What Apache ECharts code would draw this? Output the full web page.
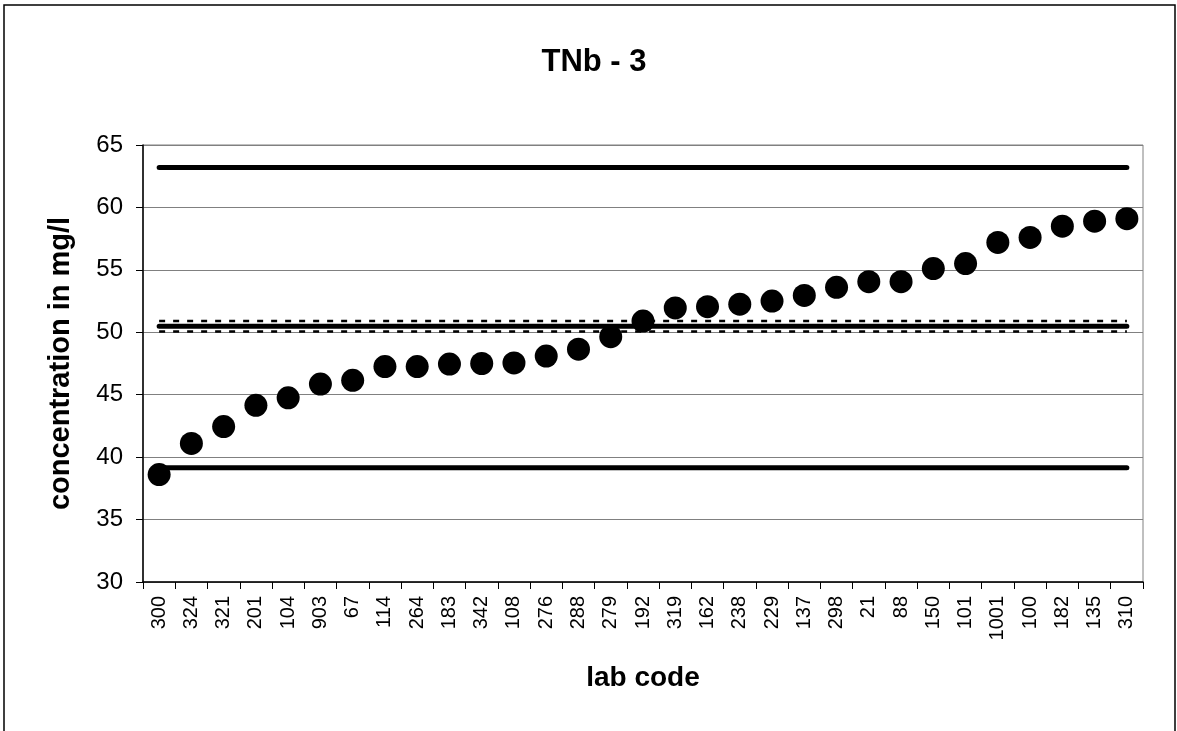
<!DOCTYPE html>
<html>
<head>
<meta charset="utf-8">
<script src="https://cdn.jsdelivr.net/npm/echarts@6/dist/echarts.min.js"></script>
<style>
html,body{margin:0;padding:0;background:#fff;}
#chart{width:1177px;height:731px;}
</style>
</head>
<body>
<div id="chart"></div>
<script>
const labCodes = ['300','324','321','201','104','903','67','114','264','183','342','108','276','288','279','192','319','162','238','229','137','298','21','88','150','101','1001','100','182','135','310'];
const concentrations = [38.6,41.1,42.45,44.15,44.75,45.85,46.15,47.25,47.25,47.45,47.5,47.55,48.1,48.65,49.65,50.9,51.95,52.05,52.25,52.5,52.95,53.6,54.05,54.05,55.1,55.5,57.2,57.6,58.5,58.9,59.1];
const upperLimit = 63.2;
const lowerLimit = 39.15;
const assignedValue = 50.48;
const upperUncertainty = 50.9;
const lowerUncertainty = 50.06;
const yTicks = {min: 30, max: 65, interval: 5};

const constSeries = (v) => labCodes.map(() => v);
const FONT = 'Liberation Sans, Arial, sans-serif';

const chart = echarts.init(document.getElementById('chart'), null, {renderer: 'canvas'});
chart.setOption({
  animation: false,
  backgroundColor: '#fff',
  title: {
    text: 'TNb - 3',
    left: 589, top: 42, textAlign: 'center',
    textStyle: {fontFamily: FONT, fontSize: 31, fontWeight: 'bold', color: '#000'}
  },
  graphic: [{
    type: 'rect', silent: true,
    shape: {x: 4, y: 5, width: 1171, height: 760},
    style: {fill: 'none', stroke: '#000', lineWidth: 1.5},
    z: 100
  }, {
    type: 'rect', silent: true,
    shape: {x: 143, y: 145, width: 1000, height: 437},
    style: {fill: 'none', stroke: '#808080', lineWidth: 1},
    z: 0
  }],
  grid: {left: 143, right: 34, top: 145, bottom: 149, containLabel: false},
  xAxis: {
    type: 'category',
    data: labCodes,
    boundaryGap: true,
    name: 'lab code',
    nameLocation: 'middle',
    nameGap: 82,
    nameTextStyle: {fontFamily: FONT, fontSize: 28, fontWeight: 'bold', color: '#000'},
    axisLine: {lineStyle: {color: '#000', width: 1.5}},
    axisTick: {show: true, alignWithLabel: false, length: 7, lineStyle: {color: '#000'}},
    axisLabel: {rotate: 90, interval: 0, margin: 14, fontFamily: FONT, fontSize: 20, color: '#000'},
    splitLine: {show: false}
  },
  yAxis: {
    type: 'value',
    min: yTicks.min, max: yTicks.max, interval: yTicks.interval,
    name: 'concentration in mg/l',
    nameLocation: 'middle',
    nameGap: 68,
    nameRotate: 90,
    nameTextStyle: {fontFamily: FONT, fontSize: 29, fontWeight: 'bold', color: '#000'},
    axisLine: {show: true, lineStyle: {color: '#000', width: 1.5}},
    axisTick: {show: true, length: 7, lineStyle: {color: '#000'}},
    axisLabel: {margin: 20, fontFamily: FONT, fontSize: 24, color: '#000'},
    splitLine: {show: true, lineStyle: {color: '#808080', width: 1}}
  },
  series: [
    {type: 'line', data: constSeries(upperLimit), symbol: 'none', lineStyle: {color: '#000', width: 5, cap: 'round'}, z: 2, silent: true},
    {type: 'line', data: constSeries(lowerLimit), symbol: 'none', lineStyle: {color: '#000', width: 5, cap: 'round'}, z: 2, silent: true},
    {type: 'line', data: constSeries(assignedValue), symbol: 'none', lineStyle: {color: '#000', width: 5, cap: 'round'}, z: 2, silent: true},
    {type: 'line', data: constSeries(upperUncertainty), symbol: 'none', lineStyle: {color: '#000', width: 2.5, type: [6, 8]}, z: 2, silent: true},
    {type: 'line', data: constSeries(lowerUncertainty), symbol: 'none', lineStyle: {color: '#000', width: 2.5, type: [6, 8]}, z: 2, silent: true},
    {type: 'scatter', data: concentrations, symbol: 'circle', symbolSize: 23, itemStyle: {color: '#000', opacity: 1}, z: 5}
  ]
});
</script>
</body>
</html>
